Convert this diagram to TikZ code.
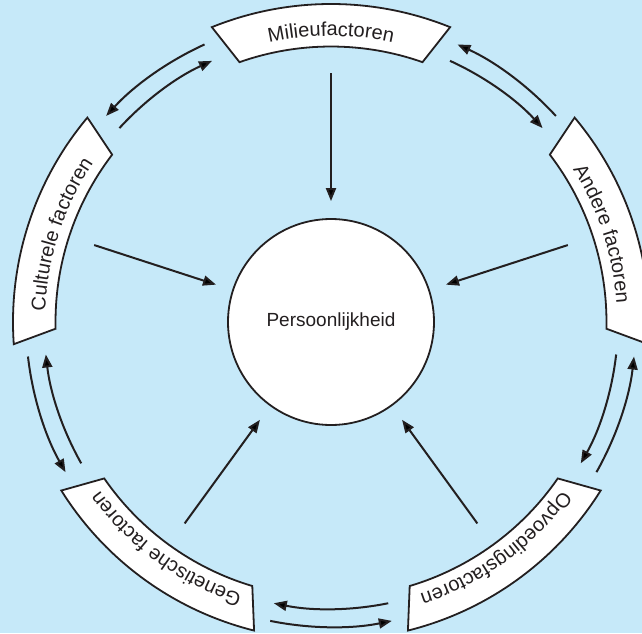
\documentclass[tikz,border=0pt]{standalone}
\usepackage{fontspec}
\setmainfont{Liberation Sans}
\usetikzlibrary{arrows.meta,decorations.text}
\definecolor{bgblue}{RGB}{198,233,249}
\definecolor{ink}{RGB}{35,31,32}
\newcommand\segfont{\fontsize{20}{23}\selectfont}
\newcommand\ctrfont{\fontsize{19}{22}\selectfont}
\begin{document}
\begin{tikzpicture}[x=1pt,y=1pt,
  seg/.style={draw=ink, fill=white, line width=1.8pt, line join=miter},
  arr/.style={draw=ink, line width=2pt, -{Triangle[length=13pt,width=10pt]}},
  segtext/.style={decorate, decoration={text along path, text align=center, text color=ink, text={|\segfont|#1}}}
  ]
\fill[bgblue] (-331,-311) rectangle (311,322);
\useasboundingbox (-331,-311) rectangle (311,322);
\clip (-331,-311) rectangle (311,322);

% central node
\node[circle, draw=ink, fill=white, line width=1.8pt, minimum size=206pt, inner sep=0pt, font=\ctrfont, text=ink] (pers) at (0,0) {Persoonlijkheid};

% segments
\foreach \c in {90,18,-54,-126,162} {
  \draw[seg] (\c+22:318) arc[start angle=\c+22, end angle=\c-22, radius=318]
    -- (\c-19.4:275.5) arc[start angle=\c-19.4, end angle=\c+19.4, radius=275.5] -- cycle;
}

% segment labels
\path[segtext={Milieufactoren}] (114:286) arc[start angle=114, end angle=66, radius=286];
\path[segtext={Andere factoren}] (42:286) arc[start angle=42, end angle=-6, radius=286];
\path[segtext={Opvoedingsfactoren}] (-30:286) arc[start angle=-30, end angle=-78, radius=286];
\path[segtext={Genetische factoren}] (-102:286) arc[start angle=-102, end angle=-150, radius=286];
\path[segtext={Culturele factoren}] (186:286) arc[start angle=186, end angle=138, radius=286];

% radial arrows to the centre
\coordinate (mil) at (90:249);
\coordinate (and) at (18:249);
\coordinate (opv) at (-54:249);
\coordinate (gen) at (-126:249);
\coordinate (cul) at (162:249);
\foreach \n in {mil,and,opv,gen,cul} {
  \draw[arr, shorten >=17pt] (\n) -- (pers);
}

% curved arrow pairs between neighbouring segments
\foreach \g [count=\i] in {54,126,198,270,342} {
  \coordinate (os\i) at (\g-11.5:305);
  \coordinate (is\i) at (\g+11.5:287);
  \draw[arr] (os\i) arc[start angle=\g-11.5, delta angle=23, radius=305];
  \draw[arr] (is\i) arc[start angle=\g+11.5, delta angle=-23, radius=287];
}
\end{tikzpicture}
\end{document}
